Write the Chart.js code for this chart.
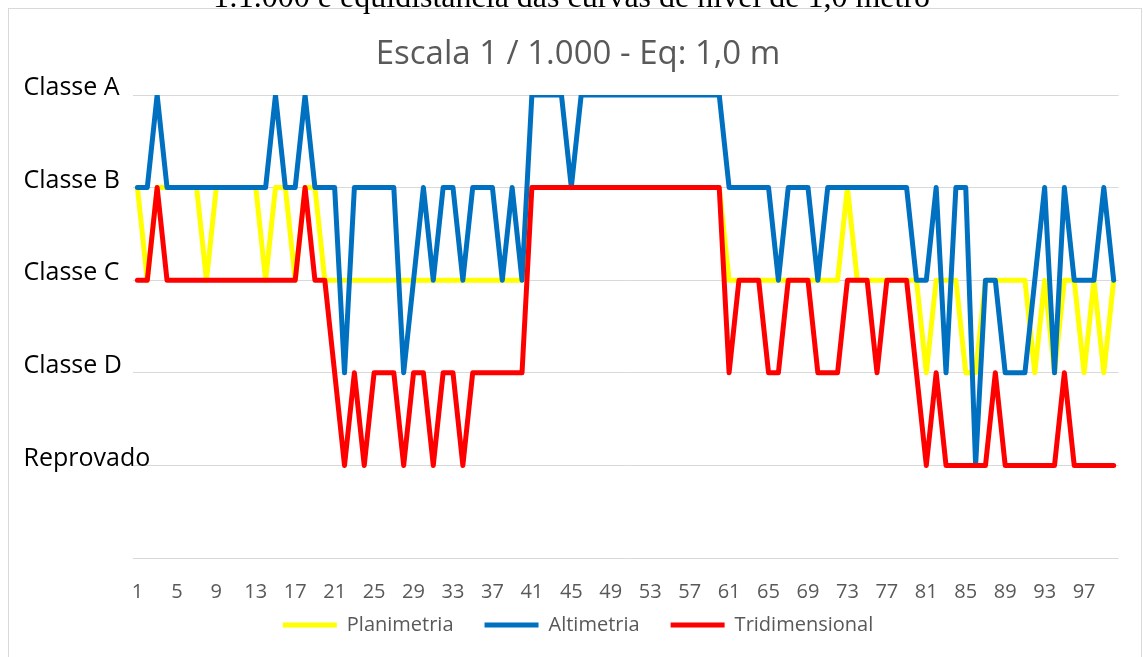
<!DOCTYPE html>
<html>
<head>
<meta charset="utf-8">
<script src="https://cdn.jsdelivr.net/npm/chart.js@4.4.1/dist/chart.umd.min.js"></script>
<style>
  html, body { margin: 0; padding: 0; background: #fff; }
  #page { position: relative; width: 1143px; height: 657px; overflow: hidden; }
  #caption {
    position: absolute; left: 0; width: 1143px; top: -20px;
    text-align: center; font: 32px/32px "Liberation Serif", serif; color: #000;
    white-space: nowrap; z-index: 2;
  }
  #frame {
    position: absolute; left: 8px; top: 8px; width: 1132px; height: 700px;
    border: 1px solid #d9d9d9;
  }
  #wrap { position: absolute; left: 0; top: 0; width: 1143px; height: 657px; }
</style>
</head>
<body>
<div id="page">
  <div id="caption">1:1.000 e equidistância das curvas de nível de 1,0 metro</div>
  <div id="frame"></div>
  <div id="wrap"><canvas id="chart"></canvas></div>
</div>
<script>
// niveis: 1 = Reprovado, 2 = Classe D, 3 = Classe C, 4 = Classe B, 5 = Classe A
const classes = ["", "Reprovado", "Classe D", "Classe C", "Classe B", "Classe A"];
const folhas = Array.from({ length: 100 }, (_, i) => String(i + 1));

const planimetria = [
  4, 3, 4, 4, 4, 4, 4, 3, 4, 4, 4, 4, 4, 3, 4, 4, 3, 4, 4, 3,
  3, 3, 3, 3, 3, 3, 3, 3, 3, 3, 3, 3, 3, 3, 3, 3, 3, 3, 3, 3,
  4, 4, 4, 4, 4, 4, 4, 4, 4, 4, 4, 4, 4, 4, 4, 4, 4, 4, 4, 4,
  3, 3, 3, 3, 3, 3, 3, 3, 3, 3, 3, 3, 4, 3, 3, 3, 3, 3, 3, 3,
  2, 3, 3, 3, 2, 2, 3, 3, 3, 3, 3, 2, 3, 2, 3, 3, 2, 3, 2, 3
];
const altimetria = [
  4, 4, 5, 4, 4, 4, 4, 4, 4, 4, 4, 4, 4, 4, 5, 4, 4, 5, 4, 4,
  4, 2, 4, 4, 4, 4, 4, 2, 3, 4, 3, 4, 4, 3, 4, 4, 4, 3, 4, 3,
  5, 5, 5, 5, 4, 5, 5, 5, 5, 5, 5, 5, 5, 5, 5, 5, 5, 5, 5, 5,
  4, 4, 4, 4, 4, 3, 4, 4, 4, 3, 4, 4, 4, 4, 4, 4, 4, 4, 4, 3,
  3, 4, 2, 4, 4, 1, 3, 3, 2, 2, 2, 3, 4, 2, 4, 3, 3, 3, 4, 3
];
const tridimensional = [
  3, 3, 4, 3, 3, 3, 3, 3, 3, 3, 3, 3, 3, 3, 3, 3, 3, 4, 3, 3,
  2, 1, 2, 1, 2, 2, 2, 1, 2, 2, 1, 2, 2, 1, 2, 2, 2, 2, 2, 2,
  4, 4, 4, 4, 4, 4, 4, 4, 4, 4, 4, 4, 4, 4, 4, 4, 4, 4, 4, 4,
  2, 3, 3, 3, 2, 2, 3, 3, 3, 2, 2, 2, 3, 3, 3, 2, 3, 3, 3, 2,
  1, 2, 1, 1, 1, 1, 1, 2, 1, 1, 1, 1, 1, 1, 2, 1, 1, 1, 1, 1
];

function serie(label, data, color, order) {
  return {
    label: label,
    data: data,
    borderColor: color,
    backgroundColor: color,
    borderWidth: 5,
    pointRadius: 0,
    tension: 0,
    borderJoinStyle: "round",
    borderCapStyle: "round",
    order: order
  };
}

const ctx = document.getElementById("chart").getContext("2d");
new Chart(ctx, {
  type: "line",
  data: {
    labels: folhas,
    datasets: [
      serie("Planimetria", planimetria, "#ffff00", 2),
      serie("Altimetria", altimetria, "#0070c0", 1),
      serie("Tridimensional", tridimensional, "#ff0000", 0)
    ]
  },
  options: {
    responsive: true,
    maintainAspectRatio: false,
    animation: false,
    layout: { padding: { left: 37.4, right: 24.4, top: 0, bottom: 12 } },
    plugins: {
      tooltip: { enabled: false },
      title: {
        display: true,
        text: "Escala 1 / 1.000 - Eq: 1,0 m",
        color: "#595959",
        font: { family: "Open Sans", size: 33, weight: "normal" },
        padding: { top: 35.2, bottom: 20.2 }
      },
      legend: {
        position: "bottom",
        labels: {
          color: "#595959",
          font: { family: "Open Sans", size: 20 },
          usePointStyle: true,
          pointStyle: "line",
          pointStyleWidth: 54,
          padding: 31,
          sort: (a, b) => a.datasetIndex - b.datasetIndex
        }
      }
    },
    scales: {
      x: {
        offset: true,
        grid: { display: false, drawTicks: false },
        border: { display: false },
        ticks: {
          autoSkip: false,
          maxRotation: 0,
          mirror: true,
          padding: -46,
          color: "#595959",
          font: { family: "Open Sans", size: 20 },
          callback: (v, i) => (i % 4 === 0 ? folhas[i] : "")
        },
        afterFit: (scale) => { scale.height = 26; }
      },
      y: {
        min: 0,
        max: 5,
        grid: { color: "#d9d9d9", lineWidth: 1, drawTicks: false },
        border: { display: false },
        ticks: {
          stepSize: 1,
          mirror: true,
          crossAlign: "near",
          padding: -109,
          labelOffset: -7,
          color: "#000",
          font: { family: "Open Sans", size: 25 },
          callback: (v) => classes[v]
        },
        afterFit: (scale) => { scale.width = 95.1; }
      }
    }
  }
});
</script>
</body>
</html>
